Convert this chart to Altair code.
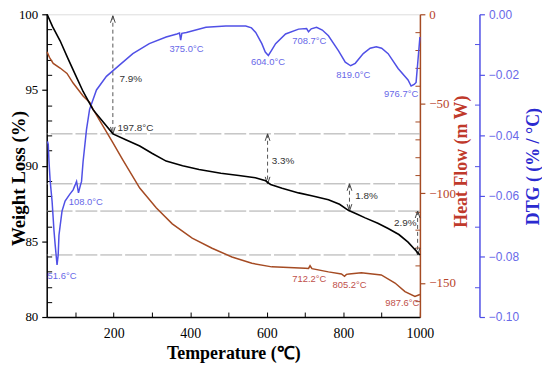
import altair as alt
import pandas as pd

# ---- data ----
temp_w = [26, 40, 60, 80, 100, 120, 146, 172, 198, 233, 268, 301, 337, 380, 423, 480, 527, 570, 597, 610,
          640, 683, 720, 761, 790, 813, 835, 857, 890, 917, 945, 969, 1000]
weight = [100, 99.2, 98.25, 97.1, 96.0, 94.9, 93.7, 92.9, 92.1, 91.7, 91.3, 90.8, 90.3, 90.0, 89.75, 89.5,
          89.35, 89.2, 89.0, 88.75, 88.5, 88.2, 88.0, 87.75, 87.45, 87.05, 86.8, 86.55, 86.2, 85.85, 85.45,
          84.95, 84.1]

temp_h = [26, 32, 42, 60, 78, 94, 120, 138, 146, 171, 197, 223, 268, 311, 353, 405, 457, 509, 561, 613,
          657, 700, 709, 713, 718, 761, 795, 803, 808, 815, 847, 899, 935, 961, 987, 1000]
heat = [-21, -24, -27.4, -30, -33, -38.4, -45.6, -49.4, -53, -62, -71.4, -81, -97, -108, -117, -125,
        -130.6, -135.5, -139, -141, -141.3, -141.8, -141.9, -140.4, -142, -143.8, -145, -146.3, -145.2,
        -145, -144.3, -145.5, -150, -154.8, -157.5, -156.4]

temp_d = [27, 29, 31, 34, 39, 44, 47, 52, 55, 57, 60, 65, 73, 85, 94, 103, 108, 113, 116, 120,
          129, 137, 155, 181, 215, 250, 293, 337, 365, 372, 375, 378, 390, 441, 493, 545, 560, 571, 587, 596,
          604, 612, 623, 649, 683, 704, 709, 716, 730, 745, 761, 787, 805, 819, 831, 852, 870, 886, 900, 917,
          943, 969, 977, 985, 990, 995, 1000]
dtg = [-0.042, -0.043, -0.0487, -0.055, -0.0617, -0.0714, -0.076, -0.0828, -0.0795, -0.073,
       -0.07, -0.065, -0.0617, -0.0595, -0.058, -0.0552, -0.059, -0.0565, -0.0552, -0.0487,
       -0.038, -0.0314, -0.025, -0.0205, -0.0168, -0.013, -0.0097, -0.0075, -0.0065, -0.0062,
       -0.0085, -0.0063, -0.006, -0.0043, -0.0039, -0.0039, -0.0045, -0.006, -0.0097, -0.0125,
       -0.0136, -0.012, -0.0097, -0.0065, -0.0049, -0.0047, -0.0058, -0.0048, -0.0043, -0.0052,
       -0.0071, -0.012, -0.0158, -0.017, -0.0162, -0.013, -0.0112, -0.0107, -0.0112, -0.013,
       -0.0179, -0.0217, -0.0237, -0.0232, -0.0225, -0.015, -0.0075]

ref_levels = [92.1, 88.8, 87.0, 84.1]
arrow_t = [197.8, 602, 816, 994]
arrow_top = [99.9, 92.1, 88.8, 87.0]
arrow_bot = [92.1, 88.8, 87.0, 84.1]

w_labels = ["7.9%", "197.8\u00b0C", "3.3%", "1.8%", "2.9%"]
w_label_t = [215, 210, 613, 831, 932]
w_label_v = [95.7, 92.5, 90.3, 88.0, 86.2]

d_labels = ["51.6\u00b0C", "108.0\u00b0C", "375.0\u00b0C", "604.0\u00b0C", "708.7\u00b0C", "819.0\u00b0C", "976.7\u00b0C"]
d_label_t = [65, 127, 390, 603, 711, 826, 951]
d_label_v = [-0.0864, -0.062, -0.0114, -0.0159, -0.0088, -0.0201, -0.0263]

h_labels = ["712.2\u00b0C", "805.2\u00b0C", "987.6\u00b0C"]
h_label_t = [711, 816, 954]
h_label_v = [-147.6, -150.9, -161.4]

x_major = [200, 400, 600, 800, 1000]
x_minor = list(range(100, 1001, 100))
w_major = [80, 85, 90, 95, 100]
w_minor = [v for v in range(80, 101) if v % 5 != 0]
h_major = [0, -50, -100, -150]
h_minor = [v for v in range(-160, 0, 10) if v % 50 != 0]
d_major = [0.0, -0.02, -0.04, -0.06, -0.08, -0.1]
d_minor = [-0.01, -0.03, -0.05, -0.07, -0.09]

# ---- tables ----
df_w = pd.DataFrame({"T": temp_w, "V": weight})
df_h = pd.DataFrame({"T": temp_h, "V": heat})
df_d = pd.DataFrame({"T": temp_d, "V": dtg})
df_ref = pd.DataFrame({"L": ref_levels})
df_arr = pd.DataFrame({"T": arrow_t, "top": arrow_top, "bot": arrow_bot})
df_wl = pd.DataFrame({"T": w_label_t, "V": w_label_v, "txt": w_labels})
df_dl = pd.DataFrame({"T": d_label_t, "V": d_label_v, "txt": d_labels})
df_hl = pd.DataFrame({"T": h_label_t, "V": h_label_v, "txt": h_labels})

SERIF = "Liberation Serif"
SANS = "Liberation Sans"
BROWN = "#a54b23"
BROWN_TXT = "#b8452c"
BLUE = "#5050e6"
BLUE_TXT = "#6868e8"

XS = alt.Scale(domain=[25, 1000], nice=False, zero=False)
WS = alt.Scale(domain=[80, 100], nice=False, zero=False)
HS = alt.Scale(domain=[-169, 0], nice=False, zero=False)
DS = alt.Scale(domain=[-0.1, 0], nice=False, zero=False)

PLOT_H = 305

x_axis = alt.Axis(values=x_major, format="d", tickSize=0, labelPadding=10, labelFlush=False, labelFont=SERIF,
                  labelFontSize=14, labelColor="black", domainColor="black", domainWidth=1.5,
                  title="Temperature (\u2103)", titleFont=SERIF, titleFontSize=18, titleFontWeight="bold",
                  titleColor="black", titleX=188, titleY=37, titleAlign="center", titleBaseline="middle",
                  grid=False)
w_axis = alt.Axis(values=w_major, tickSize=5, tickColor="black", tickWidth=1.2, domainColor="black",
                  domainWidth=1.5, labelFont=SERIF, labelFontSize=13, labelColor="black", labelPadding=4,
                  title="Weight Loss (%)", titleFont=SERIF, titleFontSize=19, titleFontWeight="bold",
                  titleColor="black", titleAngle=270, titleX=-28, titleY=165, titleAlign="center",
                  titleBaseline="middle", grid=False)
h_axis = alt.Axis(orient="right", values=h_major, tickSize=5, tickColor=BROWN, tickWidth=1.2,
                  domainColor=BROWN, domainWidth=1.5, labelFont=SERIF, labelFontSize=13,
                  labelColor=BROWN_TXT, labelPadding=4, title="Heat Flow (m W)", titleFont=SERIF,
                  titleFontSize=18, titleFontWeight="bold", titleColor="#c0392b", titleAngle=270,
                  titleX=42, titleY=148, titleAlign="center", titleBaseline="middle", grid=False)
d_axis = alt.Axis(orient="right", offset=60, values=d_major, format=".2f", tickSize=5, tickColor=BLUE,
                  tickWidth=1.2, domainColor=BLUE, domainWidth=1.5, labelFont=SANS, labelFontSize=12,
                  labelColor=BLUE_TXT, labelPadding=4, title="DTG ( (% / \u00b0C)", titleFont=SERIF,
                  titleFontSize=18, titleFontWeight="bold", titleColor="#2a2ad0", titleAngle=270,
                  titleX=54, titleY=153, titleAlign="center", titleBaseline="middle", grid=False)


def minor_axis(values, orient, offset, color):
    return alt.Axis(orient=orient, values=values, offset=offset, tickSize=5, tickColor=color,
                    tickWidth=1, domain=False, labels=False, title=None, grid=False)


weight_line = alt.Chart(df_w).mark_line(color="black", strokeWidth=1.6).encode(
    x=alt.X("T:Q", scale=XS, axis=x_axis), y=alt.Y("V:Q", scale=WS, axis=w_axis))
heat_line = alt.Chart(df_h).mark_line(color=BROWN, strokeWidth=1.5).encode(
    x=alt.X("T:Q", scale=XS, axis=None), y=alt.Y("V:Q", scale=HS, axis=h_axis))
dtg_line = alt.Chart(df_d).mark_line(color=BLUE, strokeWidth=1.5).encode(
    x=alt.X("T:Q", scale=XS, axis=None), y=alt.Y("V:Q", scale=DS, axis=d_axis))

x_minor_l = alt.Chart(df_w).mark_line(opacity=0).encode(
    x=alt.X("T:Q", scale=XS, axis=minor_axis(x_minor, "bottom", -5, "black")),
    y=alt.Y("V:Q", scale=WS, axis=None))
w_minor_l = alt.Chart(df_w).mark_line(opacity=0).encode(
    x=alt.X("T:Q", scale=XS, axis=None),
    y=alt.Y("V:Q", scale=WS, axis=minor_axis(w_minor, "left", -5, "black")))
h_minor_l = alt.Chart(df_h).mark_line(opacity=0).encode(
    x=alt.X("T:Q", scale=XS, axis=None),
    y=alt.Y("V:Q", scale=HS, axis=minor_axis(h_minor, "right", -5, BROWN)))
d_minor_l = alt.Chart(df_d).mark_line(opacity=0).encode(
    x=alt.X("T:Q", scale=XS, axis=None),
    y=alt.Y("V:Q", scale=DS, axis=minor_axis(d_minor, "right", 55, BLUE)))

ref_rules = alt.Chart(df_ref).mark_rule(color="#a8a8a8", strokeDash=[22, 3], strokeWidth=1).encode(
    y=alt.Y("L:Q", scale=WS, axis=None))
arr_rules = alt.Chart(df_arr).mark_rule(color="#555555", strokeDash=[4, 3], strokeWidth=1).encode(
    x=alt.X("T:Q", scale=XS, axis=None), y=alt.Y("top:Q", scale=WS, axis=None), y2="bot:Q")
arr_up = alt.Chart(df_arr).mark_point(shape="M-0.6,1.75L0,0L0.6,1.75", filled=False, size=64,
                                      color="#444444", strokeWidth=1, opacity=1).encode(
    x=alt.X("T:Q", scale=XS, axis=None), y=alt.Y("top:Q", scale=WS, axis=None))
arr_dn = alt.Chart(df_arr).mark_point(shape="M-0.6,-1.75L0,0L0.6,-1.75", filled=False, size=64,
                                      color="#444444", strokeWidth=1, opacity=1).encode(
    x=alt.X("T:Q", scale=XS, axis=None), y=alt.Y("bot:Q", scale=WS, axis=None))

w_text = alt.Chart(df_wl).mark_text(font=SANS, fontSize=10, color="#333333", align="left",
                                    baseline="middle").encode(
    x=alt.X("T:Q", scale=XS, axis=None), y=alt.Y("V:Q", scale=WS, axis=None), text="txt:N")
d_text = alt.Chart(df_dl).mark_text(font=SANS, fontSize=9.5, color=BLUE_TXT, align="center",
                                    baseline="middle").encode(
    x=alt.X("T:Q", scale=XS, axis=None), y=alt.Y("V:Q", scale=DS, axis=None), text="txt:N")
h_text = alt.Chart(df_hl).mark_text(font=SANS, fontSize=9.5, color="#c0504a", align="center",
                                    baseline="middle").encode(
    x=alt.X("T:Q", scale=XS, axis=None), y=alt.Y("V:Q", scale=HS, axis=None), text="txt:N")

chart = alt.layer(
    ref_rules, arr_rules, arr_up, arr_dn,
    heat_line, dtg_line, weight_line,
    x_minor_l, w_minor_l, h_minor_l, d_minor_l,
    w_text, d_text, h_text,
).resolve_scale(x="independent", y="independent").properties(
    width=376, height=PLOT_H,
    autosize=alt.AutoSizeParams(type="none"),
    padding={"left": 39, "top": 5, "right": 123, "bottom": 46},
).configure_view(stroke="black", strokeWidth=1.5).configure(background="white")

chart.save("out.html", embed_options={"renderer": "svg", "actions": False})
